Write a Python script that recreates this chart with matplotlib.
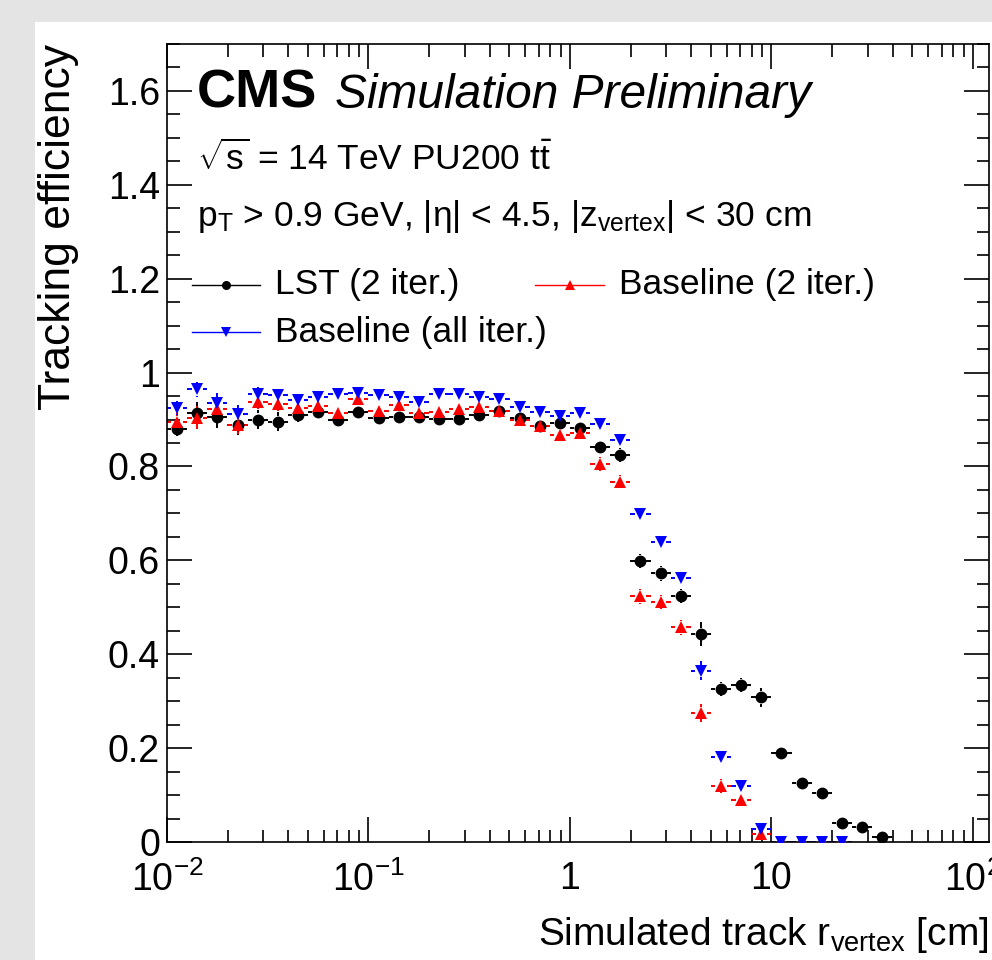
"""Tracking efficiency vs simulated track r_vertex (CMS-style ROOT look)."""

import numpy as np
import matplotlib
matplotlib.use("Agg")
from matplotlib import pyplot as plt
from matplotlib.collections import LineCollection
from matplotlib.lines import Line2D
from matplotlib.patches import Rectangle
from matplotlib.ticker import FixedLocator, LogLocator, MultipleLocator, FuncFormatter, NullFormatter

# binning: 10 log bins per decade starting at 1e-2
bin_edges = np.logspace(-2, 1.6, 37)

lst_eff = [0.879, 0.913, 0.906, 0.888, 0.900, 0.895, 0.910, 0.915, 0.898, 0.915,
           0.904, 0.906, 0.906, 0.902, 0.902, 0.910, 0.918, 0.903, 0.887, 0.892,
           0.882, 0.842, 0.824, 0.598, 0.572, 0.524, 0.443, 0.326, 0.334, 0.308,
           0.190, 0.125, 0.104, 0.040, 0.031, 0.011]
lst_err = [0.015, 0.025, 0.025, 0.020, 0.020, 0.020, 0.015, 0.012, 0.012, 0.010,
           0.010, 0.010, 0.010, 0.010, 0.010, 0.010, 0.010, 0.010, 0.010, 0.010,
           0.010, 0.012, 0.015, 0.015, 0.015, 0.015, 0.025, 0.015, 0.015, 0.020,
           0.012, 0.008, 0.008, 0.008, 0.008, 0.008]

base2_eff = [0.895, 0.904, 0.922, 0.889, 0.938, 0.934, 0.924, 0.929, 0.913, 0.943,
             0.919, 0.931, 0.913, 0.917, 0.922, 0.927, 0.919, 0.898, 0.886, 0.868,
             0.871, 0.806, 0.766, 0.523, 0.512, 0.457, 0.275, 0.120, 0.089, 0.016,
             0.0, 0.0, 0.0, 0.0]
base2_err = [0.020, 0.025, 0.020, 0.020, 0.015, 0.015, 0.010, 0.010, 0.010, 0.010,
             0.010, 0.010, 0.010, 0.010, 0.010, 0.010, 0.010, 0.010, 0.010, 0.010,
             0.010, 0.015, 0.015, 0.015, 0.015, 0.015, 0.020, 0.015, 0.012, 0.012,
             0.0, 0.0, 0.0, 0.0]

baseall_eff = [0.924, 0.964, 0.936, 0.911, 0.954, 0.952, 0.942, 0.947, 0.954, 0.957,
               0.952, 0.949, 0.938, 0.954, 0.954, 0.947, 0.943, 0.927, 0.917, 0.907,
               0.913, 0.890, 0.856, 0.698, 0.640, 0.562, 0.365, 0.182, 0.120, 0.027,
               0.0, 0.0, 0.0, 0.0]
baseall_err = [0.015, 0.015, 0.020, 0.020, 0.015, 0.010, 0.010, 0.010, 0.010, 0.010,
               0.010, 0.010, 0.010, 0.010, 0.010, 0.010, 0.010, 0.010, 0.010, 0.010,
               0.010, 0.010, 0.012, 0.012, 0.012, 0.012, 0.020, 0.012, 0.012, 0.012,
               0.0, 0.0, 0.0, 0.0]

x_ticks = [1e-2, 1e-1, 1, 10, 100]
x_ticklabels = [r"$\mathregular{10^{-2}}$", r"$\mathregular{10^{-1}}$", "1", "10",
                r"$\mathregular{10^{2}}$"]


def draw_series(ax, eff, err, color, marker):
    n = len(eff)
    lo = bin_edges[:n]
    hi = bin_edges[1:n + 1]
    xc = np.sqrt(lo * hi)
    gx = 10 ** 0.028   # ROOT leaves a small gap around the marker
    gy = 0.013
    segs = []
    for x, y, e, l, h in zip(xc, eff, err, lo, hi):
        segs.append([(l, y), (x / gx, y)])
        segs.append([(x * gx, y), (h, y)])
        if e > gy:
            segs.append([(x, y - e), (x, y - gy)])
            segs.append([(x, y + gy), (x, y + e)])
    ax.add_collection(LineCollection(segs, colors=color, linewidths=1.4, zorder=2))
    ax.plot(xc, eff, ls="none", marker=marker, color=color, ms=8.5, mew=0, zorder=3)


def main():
    plt.rcParams["font.family"] = ["Liberation Sans", "DejaVu Sans"]
    plt.rcParams["mathtext.fontset"] = "custom"
    plt.rcParams["mathtext.rm"] = "Liberation Sans"
    plt.rcParams["mathtext.it"] = "Liberation Sans:italic"
    plt.rcParams["mathtext.bf"] = "Liberation Sans:bold"

    fig = plt.figure(figsize=(9.92, 9.60), dpi=100)
    fig.patch.set_facecolor("#e4e4e4")
    fig.add_artist(Rectangle((35 / 992, 0), 1, 1 - 22 / 960, transform=fig.transFigure,
                             facecolor="white", edgecolor="none", zorder=-1))

    ax = fig.add_axes([167 / 992, 1 - 842 / 960, 822 / 992, 798 / 960])
    ax.set_xscale("log")
    ax.set_xlim(1e-2, 10 ** 2.08)
    ax.set_ylim(0, 1.7)

    draw_series(ax, lst_eff, lst_err, "black", "o")
    draw_series(ax, base2_eff, base2_err, "red", "^")
    draw_series(ax, baseall_eff, baseall_err, "blue", "v")

    # axes and ticks
    for sp in ax.spines.values():
        sp.set_linewidth(1.2)
    ax.xaxis.set_major_locator(FixedLocator(x_ticks))
    ax.set_xticklabels(x_ticklabels)
    ax.xaxis.set_minor_locator(LogLocator(base=10, subs=np.arange(2, 10), numticks=20))
    ax.xaxis.set_minor_formatter(NullFormatter())
    ax.yaxis.set_major_locator(MultipleLocator(0.2))
    ax.yaxis.set_minor_locator(MultipleLocator(0.05))
    ax.yaxis.set_major_formatter(FuncFormatter(lambda v, p: f"{v:g}"))
    ax.tick_params(which="both", direction="in", top=True, right=True, width=1.2)
    ax.tick_params(which="major", length=18, labelsize=27)
    ax.tick_params(which="minor", length=9)
    ax.tick_params(axis="y", pad=5)
    ax.tick_params(axis="x", pad=14)

    ax.text(-0.132, 1.0, "Tracking efficiency", rotation=90, ha="center", va="top",
            fontsize=32, transform=ax.transAxes)
    ax.text(1.0, -0.129, r"Simulated track r$_{\mathregular{vertex}}$ [cm]", ha="right",
            va="baseline", fontsize=28, transform=ax.transAxes)

    # labels
    ax.text(0.0365, 0.92, "CMS", fontsize=39, fontweight="bold", va="baseline",
            transform=ax.transAxes)
    ax.text(0.204, 0.92, "Simulation Preliminary", fontsize=34.5, style="italic",
            va="baseline", transform=ax.transAxes)
    ax.text(0.0365, 0.842, r"$\sqrt{\mathregular{s}}$ = 14 TeV PU200 t$\mathregular{\bar{t}}$",
            fontsize=25.5, va="baseline", transform=ax.transAxes)
    ax.text(0.0365, 0.772,
            r"p$_{\mathregular{T}}$ > 0.9 GeV, |η| < 4.5, |z$_{\mathregular{vertex}}$| < 30 cm",
            fontsize=25.5, va="baseline", transform=ax.transAxes)

    # legend drawn by hand, ROOT-like fixed columns
    entries = [
        ("LST (2 iter.)", "black", "o", 0.030, 0.113, 0.698),
        ("Baseline (2 iter.)", "red", "^", 0.448, 0.532, 0.698),
        ("Baseline (all iter.)", "blue", "v", 0.030, 0.113, 0.639),
    ]
    for label, color, marker, x0, x1, y in entries:
        ax.add_line(Line2D([x0, x1], [y, y], color=color, lw=1.0, transform=ax.transAxes))
        ax.add_line(Line2D([(x0 + x1) / 2], [y], color=color, marker=marker, ms=6.5, mew=0,
                           transform=ax.transAxes))
        ax.text(x1 + 0.018, y, label, fontsize=25.5, va="center", transform=ax.transAxes)

    fig.savefig("out.png", dpi=100, facecolor=fig.get_facecolor())


if __name__ == "__main__":
    main()
